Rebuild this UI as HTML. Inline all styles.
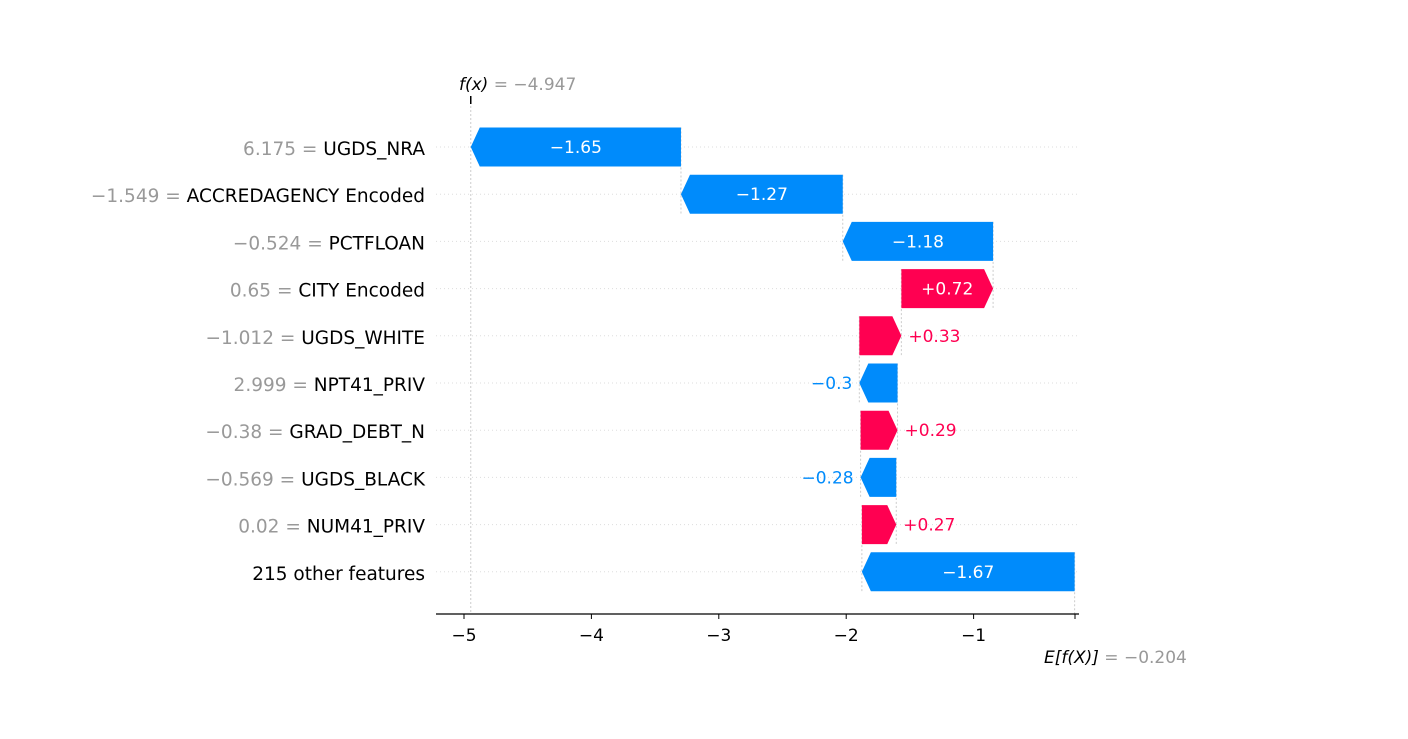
<!DOCTYPE html>
<html><head><meta charset="utf-8"><style>
body{margin:0;background:#fff;width:1408px;height:734px;overflow:hidden}
svg text{font-family:"DejaVu Sans","Liberation Sans",sans-serif}
</style></head><body>
<svg id="c" width="1408" height="734"></svg>
<script>
const featureValues=["6.175","\u22121.549","\u22120.524","0.65","\u22121.012","2.999","\u22120.38","\u22120.569","0.02",""];
const featureNames=["UGDS_NRA","ACCREDAGENCY Encoded","PCTFLOAN","CITY Encoded","UGDS_WHITE","NPT41_PRIV","GRAD_DEBT_N","UGDS_BLACK","NUM41_PRIV","215 other features"];
const shapValues=[-1.65,-1.27,-1.18,0.72,0.33,-0.3,0.29,-0.28,0.27,-1.67];
const shapLabels=["\u22121.65","\u22121.27","\u22121.18","+0.72","+0.33","\u22120.3","+0.29","\u22120.28","+0.27","\u22121.67"];
const xTicks=[-5,-4,-3,-2,-1];
const xTickLabels=["\u22125","\u22124","\u22123","\u22122","\u22121"];
const fx=-4.947, ex=-0.204;

const svg=document.getElementById('c');const NS='http://www.w3.org/2000/svg';
const X=v=>1101+v*127.4;
const rowY=i=>147+i*47.2;
const BH=39, HEAD=9;
function mk(t,a,p){const e=document.createElementNS(NS,t);for(const k in a)e.setAttribute(k,a[k]);if(p!==undefined)e.textContent=p;svg.appendChild(e);return e;}
for(let i=0;i<featureNames.length;i++){
 const g=mk('line',{x1:436,x2:1079,y1:rowY(i),y2:rowY(i),stroke:'#ddd','stroke-width':1,'stroke-dasharray':'1,3'});
 
 
}
let cur=fx;const segs=[];
for(let i=0;i<shapValues.length;i++){const s=cur,e=cur-shapValues[i];segs.push([s,e]);cur=e;}
const fl=mk('line',{x1:X(fx),x2:X(fx),y1:98,y2:614,stroke:'#ccc','stroke-width':1,'stroke-dasharray':'2,2'});


for(let i=0;i<segs.length;i++){
 const xe=X(segs[i][1]);const y2=i<segs.length-1?rowY(i+1)+BH/2:614;
 const l=mk('line',{x1:xe,x2:xe,y1:rowY(i)-BH/2,y2:y2,stroke:'#ccc','stroke-width':1,'stroke-dasharray':'2,2'});
 
 
}
mk('line',{x1:X(fx),x2:X(fx),y1:96,y2:104,stroke:'#000','stroke-width':1.5});
for(let i=0;i<shapValues.length;i++){
 const v=shapValues[i];const y=rowY(i),t=y-BH/2,b=y+BH/2;
 const a=X(Math.min(segs[i][0],segs[i][1])),c=X(Math.max(segs[i][0],segs[i][1]));
 const w=c-a;const h=Math.min(HEAD,w);
 let pts,col;
 if(v<0){col='#008bfb';pts=`${a},${y} ${a+h},${t} ${c},${t} ${c},${b} ${a+h},${b}`;}
 else{col='#ff0051';pts=`${a},${t} ${c-h},${t} ${c},${y} ${c-h},${b} ${a},${b}`;}
 const p=mk('polygon',{points:pts,fill:col});
 
 
 let tx,anchor,fill;
 if(w>80){tx=(a+c)/2;anchor='middle';fill='#fff';}
 else if(v<0){tx=a-7;anchor='end';fill=col;}
 else{tx=c+7;anchor='start';fill=col;}
 const lt=mk('text',{x:tx,y:y+6,'text-anchor':anchor,fill:fill,'font-size':17},shapLabels[i]);
 
 
 const yl=mk('text',{x:425,y:y+8,'text-anchor':'end','font-size':18.5,fill:'#000'});
 
 
 if(featureValues[i]){const s=document.createElementNS(NS,'tspan');s.setAttribute('fill','#999');s.textContent=featureValues[i]+' = ';yl.appendChild(s);}
 const s2=document.createElementNS(NS,'tspan');s2.textContent=featureNames[i];yl.appendChild(s2);
}
const ax=mk('line',{x1:436,x2:1079,y1:614,y2:614,stroke:'#000','stroke-width':1.2});


for(let i=0;i<xTicks.length;i++){
 mk('line',{x1:X(xTicks[i]),x2:X(xTicks[i]),y1:614,y2:619,stroke:'#000'});
 const t=mk('text',{x:X(xTicks[i]),y:641,'text-anchor':'middle','font-size':17,fill:'#000'},xTickLabels[i]);
 
 
}
mk('line',{x1:X(ex),x2:X(ex),y1:614,y2:619,stroke:'#000'});
const ft=mk('text',{x:459,y:90,'font-size':17,fill:'#000'});


ft.innerHTML='<tspan font-style="italic">f(x)</tspan><tspan fill="#999"> = \u22124.947</tspan>';
const et=mk('text',{x:1044,y:663,'font-size':17,fill:'#000'});


et.innerHTML='<tspan font-style="italic">E[f(X)]</tspan><tspan fill="#999"> = \u22120.204</tspan>';
</script>
</body></html>
